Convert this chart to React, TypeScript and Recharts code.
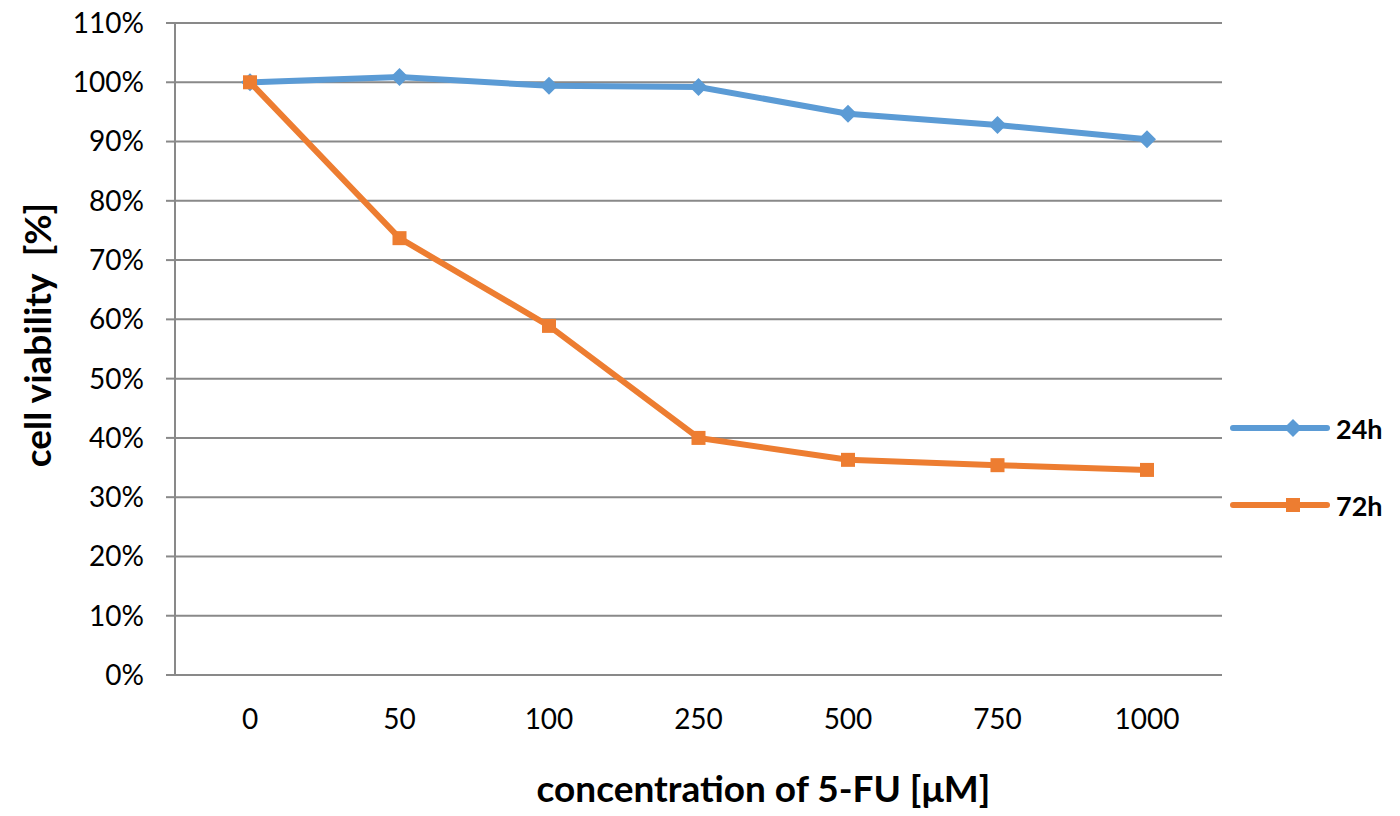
import { LineChart, Line, XAxis, YAxis, CartesianGrid, Legend, Label } from 'recharts'

const concentrations = ['0', '50', '100', '250', '500', '750', '1000']
const viability24h = [100, 100.9, 99.4, 99.2, 94.7, 92.8, 90.4]
const viability72h = [100, 73.7, 58.9, 40.0, 36.3, 35.4, 34.6]
const yTicks = [0, 10, 20, 30, 40, 50, 60, 70, 80, 90, 100, 110]

const BLUE = '#5B9BD5'
const ORANGE = '#ED7D31'
const GRID = '#898989'
const FONT = 'Lato, "Open Sans", sans-serif'

const data = concentrations.map((c, i) => ({
  conc: c,
  h24: viability24h[i],
  h72: viability72h[i],
}))

const Diamond = (props: any) => {
  const { cx, cy } = props
  if (cx == null || cy == null) return null
  const r = 9
  return (
    <path
      d={`M${cx},${cy - r} L${cx + r},${cy} L${cx},${cy + r} L${cx - r},${cy} Z`}
      fill={BLUE}
    />
  )
}

const Square = (props: any) => {
  const { cx, cy } = props
  if (cx == null || cy == null) return null
  const s = 7
  return <rect x={cx - s} y={cy - s} width={s * 2} height={s * 2} fill={ORANGE} />
}

function LegendBox() {
  const items = [
    { name: '24h', color: BLUE, shape: 'diamond' },
    { name: '72h', color: ORANGE, shape: 'square' },
  ]
  return (
    <div>
      {items.map((it, i) => (
        <div key={it.name} style={{ display: 'flex', alignItems: 'center', height: 40, marginBottom: i === 0 ? 37 : 0 }}>
          <svg width={104} height={30}>
            <line x1={3} y1={15} x2={97} y2={15} stroke={it.color} strokeWidth={6} strokeLinecap="round" />
            {it.shape === 'diamond' ? (
              <path d="M63,6 L72,15 L63,24 L54,15 Z" fill={it.color} />
            ) : (
              <rect x={56} y={8} width={14} height={14} fill={it.color} />
            )}
          </svg>
          <span style={{ fontFamily: FONT, fontWeight: 700, fontSize: 27, color: '#000', marginLeft: 2 }}>
            {it.name}
          </span>
        </div>
      ))}
    </div>
  )
}

export default function App() {
  return (
    <div style={{ position: 'absolute', left: 0, top: 0, width: 1400, height: 816, background: '#fff' }}>
      <LineChart
        width={1400}
        height={816}
        data={data}
        margin={{ top: 23, right: 10, left: 0, bottom: 0 }}
        style={{ fontFamily: FONT }}
      >
        <CartesianGrid horizontal vertical={false} stroke={GRID} strokeWidth={2} />
        <XAxis
          dataKey="conc"
          height={141}
          axisLine={false}
          tickLine={false}
          padding={{ left: 75, right: 75 }}
          tick={{ fill: '#000', fontSize: 28 }}
          tickMargin={28}
        >
          <Label
            value="concentration of 5-FU [μM]"
            position="insideBottom"
            offset={14}
            dx={65}
            fontSize={37}
            fontWeight={700}
            fill="#000"
            fontFamily={FONT}
          />
        </XAxis>
        <YAxis
          width={175}
          domain={[0, 110]}
          ticks={yTicks}
          interval={0}
          tickFormatter={(v: number) => `${v}%`}
          axisLine={{ stroke: GRID, strokeWidth: 2 }}
          tickLine={{ stroke: GRID, strokeWidth: 2 }}
          tickSize={9}
          tickMargin={22}
          tick={{ fill: '#000', fontSize: 28 }}
        >
          <Label
            value={'cell viability\u00a0\u00a0[%]'}
            angle={-90}
            position="insideLeft"
            offset={38}
            dy={-14}
            fontSize={37}
            fontWeight={700}
            fill="#000"
            fontFamily={FONT}
            style={{ textAnchor: 'middle' }}
          />
        </YAxis>
        <Legend
          layout="vertical"
          verticalAlign="top"
          align="right"
          content={<LegendBox />}
          wrapperStyle={{ left: 1230, top: 408, width: 168 }}
        />
        <Line
          dataKey="h24"
          name="24h"
          stroke={BLUE}
          strokeWidth={6}
          dot={<Diamond />}
          activeDot={false}
          isAnimationActive={false}
        />
        <Line
          dataKey="h72"
          name="72h"
          stroke={ORANGE}
          strokeWidth={6}
          dot={<Square />}
          activeDot={false}
          isAnimationActive={false}
        />
      </LineChart>
    </div>
  )
}
